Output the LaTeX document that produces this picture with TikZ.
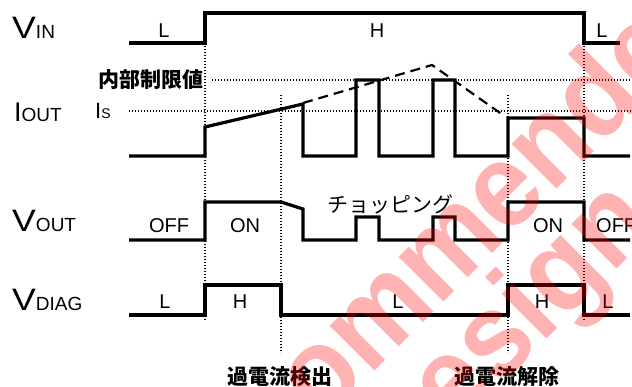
\documentclass[tikz,border=0pt]{standalone}
\usepackage{graphicx}
\usepackage{fontspec}
\setmainfont{Liberation Sans}
\newfontfamily\cjk{Noto Sans CJK JP}
\begin{document}
\begin{tikzpicture}[x=1pt,y=-1pt]
\tikzset{
  sig/.style={line width=3.2pt, line join=miter, line cap=butt},
  guide/.style={line width=1.3pt, dash pattern=on 1.2pt off 1.8pt},
  limit/.style={line width=2.2pt, dash pattern=on 10pt off 6pt},
  lbl/.style={inner sep=0pt, anchor=base, font=\fontsize{20}{20}\selectfont},
  jp/.style={inner sep=0pt, font=\cjk\fontsize{21}{21}\selectfont},
  jpb/.style={inner sep=0pt, font=\cjk\bfseries\fontsize{21}{21}\selectfont},
  signame/.style={inner sep=0pt, anchor=base west},
  wm/.style={inner sep=0pt, anchor=base east, rotate=45, text=red, text opacity=0.3,
             font=\bfseries\fontsize{120}{120}\selectfont}
}
\newcommand{\bigV}{{\fontsize{31}{31}\selectfont\scalebox{1.15}[1]{V}}}
\fill[white] (0,0) rectangle (632,387);
\useasboundingbox (0,0) rectangle (632,387);

% guides
\draw[guide] (212,80) -- (632,80);
\draw[guide] (129,111) -- (632,111);
\draw[guide] (205,43) -- (205,320);
\draw[guide] (584,43) -- (584,320);
\draw[guide] (281,95) -- (281,353);
\draw[guide] (508,95) -- (508,353);

% signals
\draw[sig] (129,43) -- (205,43) -- (205,13) -- (584,13) -- (584,43) -- (620,43);
\draw[sig] (129,156) -- (205,156) -- (205,127) -- (303,104) -- (303,156) -- (356,156)
  -- (356,80) -- (379,80) -- (379,156) -- (433,156) -- (433,80) -- (455,80) -- (455,156)
  -- (508,156) -- (508,118) -- (584,118) -- (584,156) -- (630,156);
\draw[limit] (303,103) -- (432,65) -- (503,115);
\draw[sig] (129,240) -- (205,240) -- (205,202) -- (281,202) -- (303,209) -- (303,240)
  -- (356,240) -- (356,217) -- (379,217) -- (379,240) -- (433,240) -- (433,217)
  -- (455,217) -- (455,240) -- (508,240) -- (508,202) -- (584,202) -- (584,240) -- (630,240);
\draw[sig] (129,315) -- (205,315) -- (205,285) -- (281,285) -- (281,315) -- (508,315)
  -- (508,285) -- (584,285) -- (584,315) -- (630,315);

% signal names
\node[signame] (nvin) at (12,39) {\bigV\fontsize{19}{19}\selectfont IN};
\node[signame] (niout) at (14,122) {\fontsize{27}{27}\selectfont I\fontsize{19}{19}\selectfont OUT};
\node[signame] (nvout) at (12,232) {\bigV\fontsize{19}{19}\selectfont OUT};
\node[signame] (nvdiag) at (12,311) {\bigV\fontsize{19}{19}\selectfont DIAG};
\node[signame] (nis) at (95,119) {\fontsize{22}{22}\selectfont I\fontsize{14}{14}\selectfont S};

% state labels
\node[lbl] (l1) at (164,38) {L};
\node[lbl] (h1) at (377,38) {H};
\node[lbl] (l2) at (602,38) {L};
\node[lbl] (off1) at (169,233) {OFF};
\node[lbl] (on1) at (245,233) {ON};
\node[lbl] (on2) at (548,233) {ON};
\node[lbl, anchor=base west] (off2) at (596,233) {OFF};
\node[lbl] (dl1) at (165,309) {L};
\node[lbl] (dh1) at (240,309) {H};
\node[lbl] (dl2) at (398,309) {L};
\node[lbl] (dh2) at (542,309) {H};
\node[lbl] (dl3) at (608,309) {L};

% japanese labels
\node[jpb, anchor=east] (lim) at (204,80) {内部制限値};
\node[jp] (chop) at (390,204) {チョッピング};
\node[jpb] (det) at (280,377) {過電流検出};
\node[jpb] (rel) at (507,377) {過電流解除};

% watermark
\node[wm] (wm1) at (738,8) {\scalebox{0.92}[1]{Not Recommended}};
\node[wm] (wm2) at (659,227) {\scalebox{0.92}[1]{for New Design}};
\end{tikzpicture}
\end{document}
